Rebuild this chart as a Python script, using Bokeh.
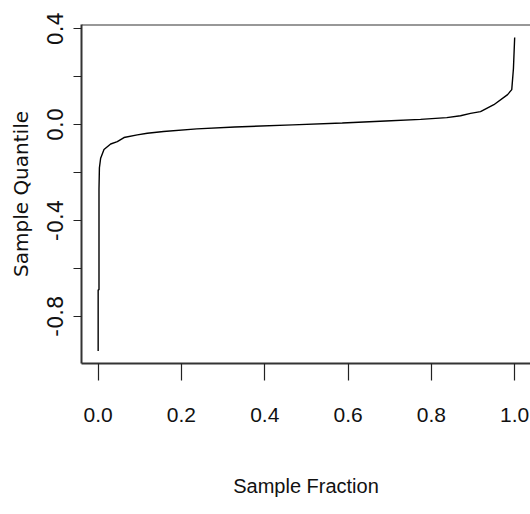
from bokeh.plotting import figure
from bokeh.models import Range1d, FixedTicker, PrintfTickFormatter, Span
from bokeh.embed import file_html
from bokeh.resources import INLINE

# Data
fraction = [0.000, 0.000, 0.002, 0.002, 0.003, 0.006, 0.014, 0.030, 0.046, 0.062,
            0.094, 0.118, 0.157, 0.237, 0.328, 0.467, 0.586, 0.690, 0.774, 0.837,
            0.870, 0.894, 0.918, 0.950, 0.983, 0.993, 0.997, 1.000]
quantile = [-0.945, -0.690, -0.690, -0.270, -0.180, -0.140, -0.104, -0.081, -0.071, -0.054,
            -0.043, -0.036, -0.029, -0.018, -0.010, -0.001, 0.007, 0.015, 0.022, 0.029,
            0.037, 0.047, 0.054, 0.083, 0.125, 0.146, 0.233, 0.364]

x_ticks = [0.0, 0.2, 0.4, 0.6, 0.8, 1.0]
y_ticks_labelled = [-0.8, -0.4, 0.0, 0.4]
y_ticks_unlabelled = [-0.6, -0.2, 0.2]

p = figure(width=530, height=508, output_backend="svg", toolbar_location=None,
           x_range=Range1d(-0.04, 1.038), y_range=Range1d(-0.9975, 0.418),
           min_border_left=81, min_border_right=0, min_border_top=24, min_border_bottom=145)

p.line(fraction, quantile, line_color="black", line_width=1.4)

p.outline_line_color = None
p.grid.visible = False
p.background_fill_color = "white"
p.border_fill_color = "white"

top_line = Span(location=0.418, dimension="width", line_color="#333333", line_width=2)
p.add_layout(top_line)

narrow = "Liberation Sans Narrow, Liberation Sans, Arial, sans-serif"

# x axis
xa = p.xaxis[0]
xa.ticker = FixedTicker(ticks=x_ticks)
xa.formatter = PrintfTickFormatter(format="%.1f")
xa.axis_line_color = "#333333"
xa.axis_line_width = 2
xa.major_tick_in = 0
xa.major_tick_out = 17
xa.major_tick_line_color = "#222222"
xa.major_tick_line_width = 1.2
xa.minor_tick_line_color = None
xa.major_label_standoff = 27
xa.major_label_text_font = narrow
xa.major_label_text_font_size = "21px"
xa.major_label_text_color = "#111111"
xa.axis_label = "Sample Fraction"
xa.axis_label_text_font = narrow
xa.axis_label_text_font_size = "20px"
xa.axis_label_text_font_style = "normal"
xa.axis_label_text_color = "#111111"
xa.axis_label_standoff = 50

# y axis
ya = p.yaxis[0]
ya.ticker = FixedTicker(ticks=y_ticks_labelled, minor_ticks=y_ticks_unlabelled)
ya.formatter = PrintfTickFormatter(format="%.1f")
ya.axis_line_color = "#333333"
ya.axis_line_width = 2
ya.major_tick_in = 0
ya.major_tick_out = 8
ya.minor_tick_in = 0
ya.minor_tick_out = 8
ya.major_tick_line_color = "#222222"
ya.minor_tick_line_color = "#222222"
ya.major_tick_line_width = 1.2
ya.minor_tick_line_width = 1.2
ya.major_label_orientation = "vertical"
ya.major_label_standoff = 10
ya.major_label_text_font = "DejaVu Sans"
ya.major_label_text_font_size = "21px"
ya.major_label_text_color = "#111111"
ya.axis_label = "Sample Quantile"
ya.axis_label_text_font = "DejaVu Sans"
ya.axis_label_text_font_size = "20px"
ya.axis_label_text_font_style = "normal"
ya.axis_label_text_color = "#111111"
ya.axis_label_standoff = 12

open("out.html", "w").write(file_html(p, INLINE))
